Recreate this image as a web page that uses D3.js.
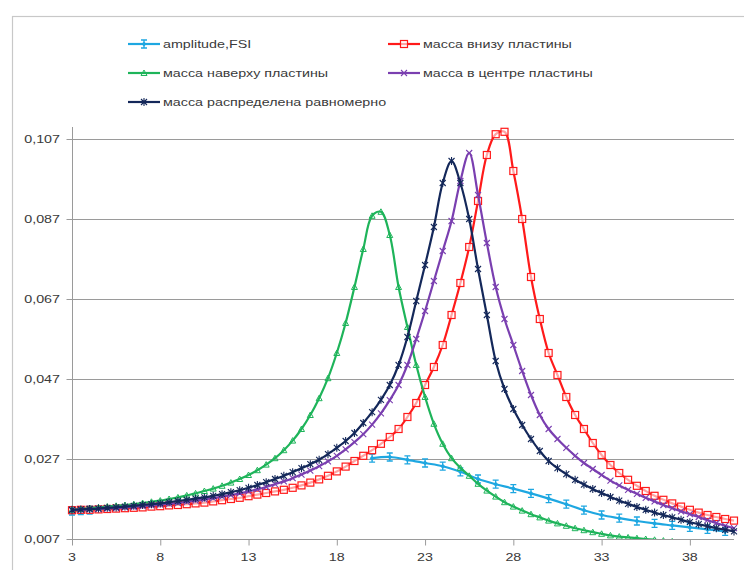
<!DOCTYPE html>
<html><head><meta charset="utf-8">
<script src="https://cdn.jsdelivr.net/npm/d3@7"></script>
<style>
html,body{margin:0;padding:0;background:#fff;}
svg{display:block;}
text{font-family:"Liberation Sans",Arial,sans-serif;fill:#3a3a3a;}
</style></head>
<body><svg id="chart" width="744" height="570"></svg>
<script>
// ---- data ----
const xCats = [3,3.5,4,4.5,5,5.5,6,6.5,7,7.5,8,8.5,9,9.5,
  10,10.5,11,11.5,12,12.5,13,13.5,14,14.5,15,15.5,16,16.5,17,17.5,18,18.5,19,19.5,
  20,20.5,21,21.5,22,22.5,23,23.5,24,24.5,25,25.5,26,26.5,27,27.5,28,28.5,29,29.5,
  30,30.5,31,31.5,32,32.5,33,33.5,34,34.5,35,35.5,36,36.5,37,37.5,38,38.5,39,39.5,40,40.5];

const seriesNames = ["amplitude,FSI","масса внизу пластины","масса наверху пластины","масса в центре пластины","масса распределена равномерно"];

const ampX = [3,3.5,4,20,21,22,23,24,25,26,27,28,29,30,31,32,33,34,35,36,37,38,39,40];
const ampY = [0.0140,0.0141,0.0142,0.0272,0.0275,0.0268,0.0260,0.0252,0.0238,0.0220,0.0207,0.0196,0.0184,0.0171,0.0157,0.0142,0.0130,0.0122,0.0115,0.0109,0.0104,0.0099,0.0094,0.0089];

const bottomMass = [0.0142,0.0143,0.0143,0.0144,0.0145,0.0146,0.0147,0.0148,0.0149,0.0151,0.0152,0.0154,0.0155,0.0157,
  0.0159,0.0161,0.0164,0.0167,0.0170,0.0173,0.0177,0.0181,0.0185,0.0189,0.0193,0.0198,0.0204,0.0211,0.0219,0.0228,0.0239,0.0251,0.0265,0.0278,
  0.0292,0.0308,0.0325,0.0345,0.0375,0.0410,0.0455,0.0500,0.0555,0.0630,0.0710,0.0800,0.0915,0.1030,0.1082,0.1088,0.0990,0.0870,0.0725,0.0620,
  0.0535,0.0480,0.0425,0.0380,0.0345,0.0310,0.0280,0.0255,0.0235,0.0218,0.0203,0.0190,0.0178,0.0168,0.0159,0.0151,0.0143,0.0136,0.0130,0.0125,0.0120,0.0116];

const topMass = [0.0143,0.0145,0.0147,0.0149,0.0151,0.0153,0.0155,0.0157,0.0160,0.0163,0.0166,0.0170,0.0174,0.0179,
  0.0184,0.0190,0.0196,0.0203,0.0211,0.0220,0.0230,0.0242,0.0256,0.0272,0.0292,0.0316,0.0345,0.0380,0.0422,0.0472,0.0535,0.0610,0.0700,0.0795,
  0.0878,0.0888,0.0830,0.0700,0.0600,0.0505,0.0425,0.0358,0.0308,0.0272,0.0248,0.0228,0.0208,0.0191,0.0176,0.0162,0.0151,0.0141,0.0132,0.0124,
  0.0116,0.0109,0.0103,0.0097,0.0092,0.0087,0.0083,0.0079,0.0076,0.0074,0.0072,0.0070,0.0068,0.0066,0.0064,0.0062,0.0061,0.0060,0.0059,0.0058,0.0057,0.0056];

const centerMass = [0.0142,0.0143,0.0144,0.0145,0.0146,0.0147,0.0149,0.0150,0.0152,0.0154,0.0156,0.0158,0.0160,0.0163,
  0.0166,0.0169,0.0172,0.0176,0.0180,0.0184,0.0189,0.0194,0.0200,0.0207,0.0214,0.0222,0.0231,0.0241,0.0252,0.0264,0.0278,0.0294,0.0312,0.0332,
  0.0356,0.0384,0.0417,0.0455,0.0505,0.0570,0.0640,0.0715,0.0790,0.0865,0.0965,0.1035,0.0930,0.0810,0.0700,0.0620,0.0555,0.0490,0.0430,0.0380,
  0.0345,0.0320,0.0298,0.0278,0.0260,0.0245,0.0230,0.0216,0.0204,0.0193,0.0183,0.0173,0.0164,0.0155,0.0147,0.0139,0.0132,0.0125,0.0117,0.0110,0.0103,0.0097];

const uniformMass = [0.0143,0.0144,0.0145,0.0146,0.0148,0.0149,0.0151,0.0153,0.0155,0.0157,0.0159,0.0162,0.0165,0.0168,
  0.0171,0.0174,0.0178,0.0182,0.0187,0.0192,0.0198,0.0205,0.0212,0.0220,0.0228,0.0237,0.0247,0.0257,0.0268,0.0282,0.0298,0.0315,0.0335,0.0360,
  0.0387,0.0418,0.0455,0.0505,0.0575,0.0665,0.0755,0.0850,0.0960,0.1015,0.0960,0.0870,0.0745,0.0630,0.0515,0.0445,0.0395,0.0355,0.0320,0.0290,
  0.0265,0.0247,0.0232,0.0218,0.0206,0.0195,0.0185,0.0175,0.0166,0.0158,0.0150,0.0143,0.0136,0.0130,0.0124,0.0118,0.0112,0.0107,0.0102,0.0097,0.0093,0.0089];

const yTicks = [0.007,0.027,0.047,0.067,0.087,0.107];
const xTickLabels = [3,8,13,18,23,28,33,38];

// ---- chart ----
const svg = d3.select("#chart");
const X0 = 72, X1 = 734, Y0 = 539, Y1 = 127;
const x = d3.scaleLinear().domain([3, 40.5]).range([X0, X1]);
const y = d3.scaleLinear().domain([0.007, 0.110]).range([Y0, Y1]);
const SX = 1.3; // horizontal text stretch
const fmt = v => d3.format(".3f")(v).replace(".", ",");
const axisColor = "#9a9a9a";

// outer border
svg.append("rect").attr("x",12.5).attr("y",16.5).attr("width",800).attr("height",600)
  .attr("fill","none").attr("stroke","#c8c8c8").attr("stroke-width",1.2);

// gridlines
svg.append("g").selectAll("line").data(yTicks.filter(v=>v>0.007)).join("line")
  .attr("x1",X0).attr("x2",X1).attr("y1",d=>Math.round(y(d))+0.5).attr("y2",d=>Math.round(y(d))+0.5)
  .attr("stroke",axisColor).attr("stroke-width",1);

// y axis
const yAxis = d3.axisLeft(y).tickValues(yTicks).tickSize(6).tickFormat("");
const gy = svg.append("g").attr("transform",`translate(${X0+0.5},0)`).call(yAxis);
gy.select(".domain").attr("d",`M0,${Y1}V${Y0}`).attr("stroke",axisColor);
gy.selectAll(".tick line").attr("stroke",axisColor);
svg.append("g").selectAll("text").data(yTicks).join("text")
  .attr("transform",d=>`translate(60,${y(d)}) scale(${SX},1)`)
  .attr("text-anchor","end").attr("dy","0.35em").attr("font-size",11)
  .text(d=>fmt(d));

// x axis
const xAxis = d3.axisBottom(x).tickValues(xTickLabels).tickSize(6).tickFormat("");
const gx = svg.append("g").attr("transform",`translate(0,${Y0+0.5})`).call(xAxis);
gx.select(".domain").attr("d",`M${X0},0H${X1}`).attr("stroke",axisColor);
gx.selectAll(".tick line").attr("stroke",axisColor);
svg.append("g").selectAll("text").data(xTickLabels).join("text")
  .attr("transform",d=>`translate(${x(d)},561) scale(${SX},1)`)
  .attr("text-anchor","middle").attr("font-size",11)
  .text(d=>d);

// clip
svg.append("clipPath").attr("id","plotclip").append("rect")
  .attr("x",X0-10).attr("y",Y1-10).attr("width",X1-X0+20).attr("height",Y0-Y1+10);

const colors = ["#1ea7e1","#ff1a1a","#1eb45a","#7a3fb0","#14285a"];
const markers = ["errbar","square","triangle","x","star"];

function drawMarker(g, type, color){
  if(type==="square"){
    g.append("rect").attr("x",-3.5).attr("y",-3.5).attr("width",7).attr("height",7)
      .attr("fill","#fff").attr("fill-opacity",0.6).attr("stroke",color).attr("stroke-width",1.2);
  } else if(type==="triangle"){
    g.append("path").attr("d","M0,-3L3,2.5L-3,2.5Z").attr("fill","none").attr("stroke",color).attr("stroke-width",1);
  } else if(type==="x"){
    g.append("path").attr("d","M-3,-3L3,3M-3,3L3,-3").attr("stroke",color).attr("stroke-width",1.1);
  } else if(type==="star"){
    g.append("path").attr("d","M-3,-3L3,3M-3,3L3,-3M0,-4V4").attr("stroke",color).attr("stroke-width",1.1);
  } else if(type==="errbar"){
    g.append("path").attr("d","M0,-4V4M-3,-4H3M-3,4H3").attr("stroke",color).attr("stroke-width",1.3).attr("fill","none");
    g.append("path").attr("d","M0,-2.5L2.5,0L0,2.5L-2.5,0Z").attr("fill",color);
  }
}

const seriesData = [
  ampX.map((v,i)=>({x:v,y:ampY[i]})),
  xCats.map((v,i)=>({x:v,y:bottomMass[i]})),
  xCats.map((v,i)=>({x:v,y:topMass[i]})),
  xCats.map((v,i)=>({x:v,y:centerMass[i]})),
  xCats.map((v,i)=>({x:v,y:uniformMass[i]}))
];

const plot = svg.append("g").attr("clip-path","url(#plotclip)");
seriesData.forEach((data,si)=>{
  const segs = si===0 ? [data.slice(0,3), data.slice(3)] : [data];
  const line = d3.line().x(d=>x(d.x)).y(d=>y(d.y)).curve(d3.curveCatmullRom.alpha(0.5));
  segs.forEach(seg=>{
    plot.append("path").datum(seg).attr("d",line).attr("fill","none")
      .attr("stroke",colors[si]).attr("stroke-width",2.2).attr("stroke-linejoin","round");
  });
  const mg = plot.append("g");
  data.forEach(d=>{
    const g = mg.append("g").attr("transform",`translate(${x(d.x)},${y(d.y)})`);
    drawMarker(g, markers[si], colors[si]);
  });
});

// legend
const legendPos = [[128,44],[388,44],[128,73],[388,73],[128,102]];
seriesNames.forEach((name,i)=>{
  const [lx,ly] = legendPos[i];
  const g = svg.append("g");
  g.append("line").attr("x1",lx).attr("x2",lx+32).attr("y1",ly).attr("y2",ly)
    .attr("stroke",colors[i]).attr("stroke-width",2.2);
  const m = g.append("g").attr("transform",`translate(${lx+16},${ly})`);
  drawMarker(m, markers[i], colors[i]);
  g.append("text").attr("transform",`translate(${lx+35},${ly}) scale(${SX},1)`)
    .attr("dy","0.35em").attr("font-size",11).text(name);
});
</script></body></html>
